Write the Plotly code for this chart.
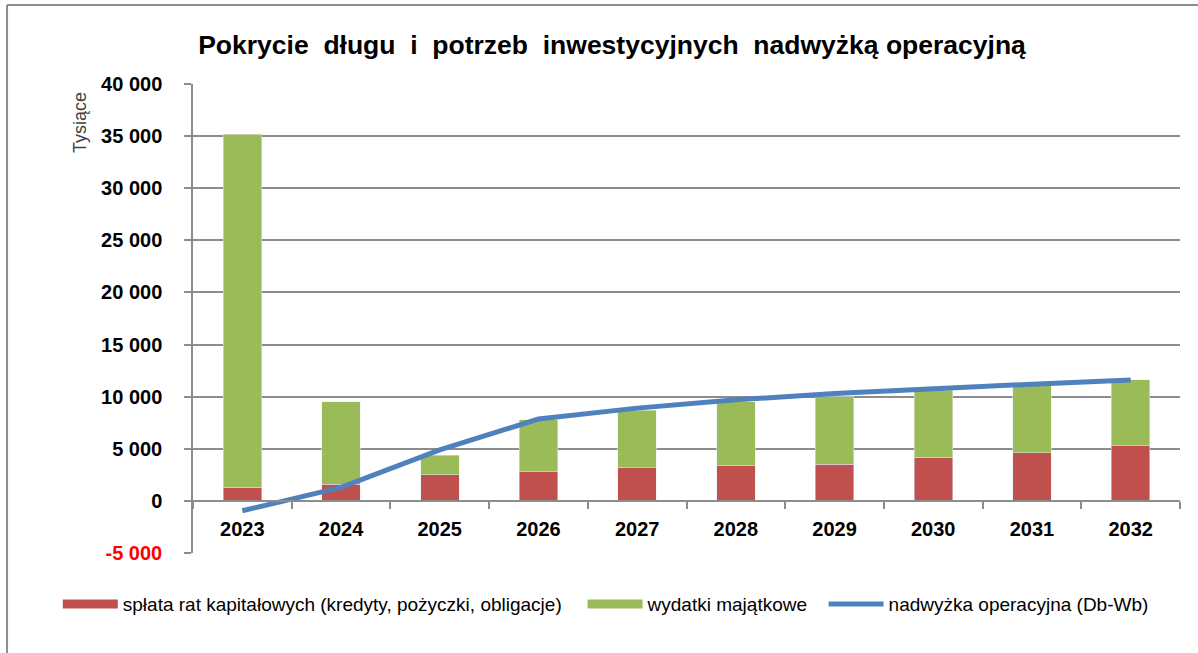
import plotly.graph_objects as go

years = ["2023", "2024", "2025", "2026", "2027", "2028", "2029", "2030", "2031", "2032"]
splata_rat = [1300, 1600, 2500, 2800, 3200, 3400, 3500, 4200, 4600, 5300]
wydatki_majatkowe = [33900, 7900, 1900, 5000, 5500, 6100, 6500, 6400, 6500, 6300]
nadwyzka = [-950, 1300, 4900, 7850, 8900, 9700, 10300, 10800, 11200, 11600]

y_tickvals = [-5000, 0, 5000, 10000, 15000, 20000, 25000, 30000, 35000, 40000]
y_ticktext = ["<b><span style='color:#FF0000'>-5 000</span></b>", "<b>0</b>", "<b>5 000</b>",
              "<b>10 000</b>", "<b>15 000</b>", "<b>20 000</b>", "<b>25 000</b>",
              "<b>30 000</b>", "<b>35 000</b>", "<b>40 000</b>"]
x_ticktext = ["<b>" + y + "</b>" for y in years]

RED = "#C0504D"
GREEN = "#9BBB59"
BLUE = "#4F81BD"
GRID = "#8C8C8C"
FONT = "Liberation Sans, Arial, sans-serif"
NB = "\u00a0"

fig = go.Figure()

fig.add_trace(go.Bar(x=years, y=splata_rat, marker_color=RED, width=0.39, showlegend=False))
fig.add_trace(go.Bar(x=years, y=wydatki_majatkowe, marker_color=GREEN, width=0.39, showlegend=False))
fig.add_trace(go.Scatter(x=years, y=nadwyzka, mode="lines", line=dict(color=BLUE, width=5),
                         showlegend=False))

# legend entries (wide swatches, like the Excel legend)
fig.add_trace(go.Scatter(x=[None], y=[None], mode="lines", line=dict(color=RED, width=9),
                         name="spłata rat kapitałowych (kredyty, pożyczki, obligacje)" + NB * 3))
fig.add_trace(go.Scatter(x=[None], y=[None], mode="lines", line=dict(color=GREEN, width=9),
                         name="wydatki majątkowe" + NB * 2))
fig.add_trace(go.Scatter(x=[None], y=[None], mode="lines", line=dict(color=BLUE, width=5),
                         name="nadwyżka operacyjna (Db-Wb)"))

fig.update_layout(
    width=1198,
    height=653,
    barmode="stack",
    plot_bgcolor="white",
    paper_bgcolor="white",
    font=dict(family=FONT, color="black"),
    margin=dict(l=193, r=18, t=84, b=100),
    title=dict(text="<b>Pokrycie  długu  i  potrzeb  inwestycyjnych  nadwyżką operacyjną</b>",
               x=612 / 1198, xanchor="center", y=1 - 45 / 653, yanchor="middle",
               font=dict(size=26.5, family=FONT, color="black")),
    legend=dict(orientation="h", x=-0.137, xanchor="left", y=-0.109, yanchor="middle",
                font=dict(size=19, family=FONT, color="black"), itemwidth=55,
                traceorder="normal", bgcolor="rgba(0,0,0,0)"),
)

fig.update_yaxes(
    range=[-5000, 40000],
    tickvals=y_tickvals,
    ticktext=y_ticktext,
    tickfont=dict(size=20, family=FONT, color="black"),
    showgrid=True, gridcolor=GRID, gridwidth=1.5,
    showline=True, linecolor=GRID, linewidth=1.5,
    ticks="outside", ticklen=7, tickcolor=GRID, tickwidth=1.5,
    zeroline=False,
    ticklabelstandoff=18,
)

fig.update_xaxes(
    type="category",
    anchor="free",
    position=(0 - (-5000)) / 45000,
    tickvals=years,
    ticktext=x_ticktext,
    showline=True, linecolor=GRID, linewidth=1.5,
    ticks="outside", tickson="boundaries", ticklen=7, tickcolor=GRID, tickwidth=1.5,
    tickfont=dict(size=20, family=FONT, color="black"),
    ticklabelstandoff=10,
    showgrid=False,
    range=[-0.5, 9.5],
)

fig.add_annotation(text="Tysiące", xref="paper", yref="paper", x=-0.1145, y=(553 - 122) / 469,
                   xanchor="center", yanchor="middle",
                   textangle=-90, showarrow=False, font=dict(size=18, family=FONT, color="#404040"))

# outer frame of the original screenshot
fig.add_shape(type="line", xref="paper", yref="paper", x0=-0.1884, x1=1.05, y0=1.1684, y1=1.1684,
              line=dict(color="#8C8C8C", width=2))
fig.add_shape(type="line", xref="paper", yref="paper", x0=-0.1884, x1=-0.1884, y0=1.1684, y1=-0.25,
              line=dict(color="#8C8C8C", width=2))

# drop the default 8px page margin so the figure sits at the window's corner
fig.write_html("out.html", config={"displayModeBar": False},
               post_script="document.body.style.margin = '0px';")
